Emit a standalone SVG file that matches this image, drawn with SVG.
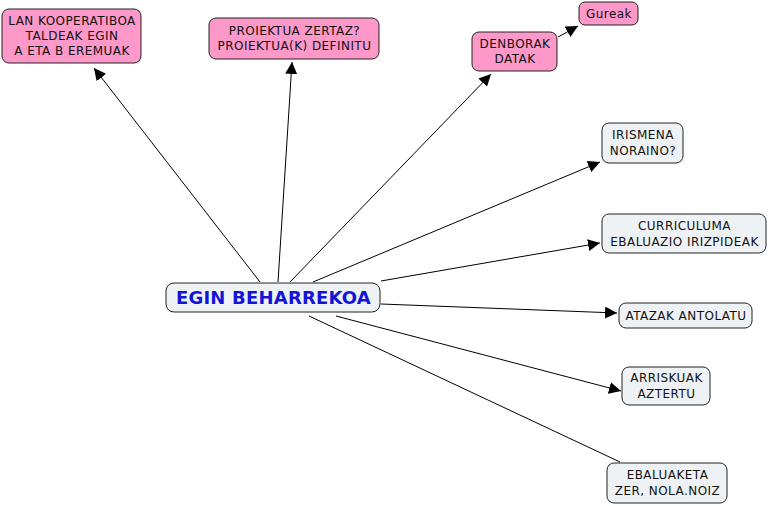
<svg xmlns="http://www.w3.org/2000/svg" width="768" height="506" viewBox="0 0 768 506">
<defs>
<marker id="arr" viewBox="0 0 10 10" refX="10" refY="5" markerWidth="12" markerHeight="12" markerUnits="userSpaceOnUse" orient="auto">
<path d="M0,0 L10,5 L0,10 z" fill="#000"/>
</marker>
</defs>
<style>
.pink{fill:#fd98c9;stroke:#222;stroke-width:1}
.grey{fill:#eef2f5;stroke:#222;stroke-width:1}
.t{font-family:"DejaVu Sans",Verdana,sans-serif;font-size:12px;letter-spacing:0.45px;fill:#111;text-anchor:middle}
.main{font-family:"DejaVu Sans",Verdana,sans-serif;font-size:18px;letter-spacing:0.2px;font-weight:bold;fill:#1414d8;text-anchor:middle}
.c{stroke:#000;stroke-width:1;fill:none}
</style>
<rect width="768" height="506" fill="#fff"/>
<g id="connectors">
<line class="c" x1="260" y1="282" x2="94" y2="68" marker-end="url(#arr)"/>
<line class="c" x1="278" y1="282" x2="292" y2="62" marker-end="url(#arr)"/>
<line class="c" x1="290" y1="282" x2="491" y2="74" marker-end="url(#arr)"/>
<line class="c" x1="558" y1="37" x2="578" y2="26" marker-end="url(#arr)"/>
<line class="c" x1="313" y1="282" x2="600" y2="162" marker-end="url(#arr)"/>
<line class="c" x1="381" y1="281" x2="600" y2="243" marker-end="url(#arr)"/>
<line class="c" x1="381" y1="304" x2="617" y2="313" marker-end="url(#arr)"/>
<line class="c" x1="336" y1="316" x2="621" y2="391" marker-end="url(#arr)"/>
<line class="c" x1="309" y1="316" x2="620" y2="462"/>
</g>
<g id="n-lan">
<rect class="pink" x="2" y="9" width="139" height="54" rx="7"/>
<text class="t" x="72" y="25">LAN KOOPERATIBOA</text>
<text class="t" x="72" y="40">TALDEAK EGIN</text>
<text class="t" x="72" y="55">A ETA B EREMUAK</text>
</g>
<g id="n-proiektua">
<rect class="pink" x="209" y="18" width="170" height="41" rx="7"/>
<text class="t" x="294.5" y="35">PROIEKTUA ZERTAZ?</text>
<text class="t" x="294.5" y="50">PROIEKTUA(K) DEFINITU</text>
</g>
<g id="n-denborak">
<rect class="pink" x="472" y="32" width="85" height="39" rx="7"/>
<text class="t" x="515" y="48">DENBORAK</text>
<text class="t" x="515" y="63">DATAK</text>
</g>
<g id="n-gureak">
<rect class="pink" x="579" y="2" width="59" height="23" rx="6"/>
<text class="t" x="609" y="18">Gureak</text>
</g>
<g id="n-main">
<rect class="grey" x="166" y="283" width="214" height="29" rx="8"/>
<text class="main" x="273.5" y="304">EGIN BEHARREKOA</text>
</g>
<g id="n-irismena">
<rect class="grey" x="602" y="123" width="81" height="40" rx="7"/>
<text class="t" x="643" y="139">IRISMENA</text>
<text class="t" x="643" y="155">NORAINO?</text>
</g>
<g id="n-curriculuma">
<rect class="grey" x="602" y="214" width="164" height="39" rx="7"/>
<text class="t" x="684.5" y="230">CURRICULUMA</text>
<text class="t" x="684.5" y="246">EBALUAZIO IRIZPIDEAK</text>
</g>
<g id="n-atazak">
<rect class="grey" x="619" y="303" width="133" height="25" rx="7"/>
<text class="t" x="686" y="320">ATAZAK ANTOLATU</text>
</g>
<g id="n-arriskuak">
<rect class="grey" x="622" y="367" width="88" height="38" rx="7"/>
<text class="t" x="666.5" y="382">ARRISKUAK</text>
<text class="t" x="666.5" y="398">AZTERTU</text>
</g>
<g id="n-ebaluaketa">
<rect class="grey" x="607" y="463" width="120" height="40" rx="7"/>
<text class="t" x="667.5" y="479">EBALUAKETA</text>
<text class="t" x="667.5" y="495">ZER, NOLA.NOIZ</text>
</g>
</svg>
